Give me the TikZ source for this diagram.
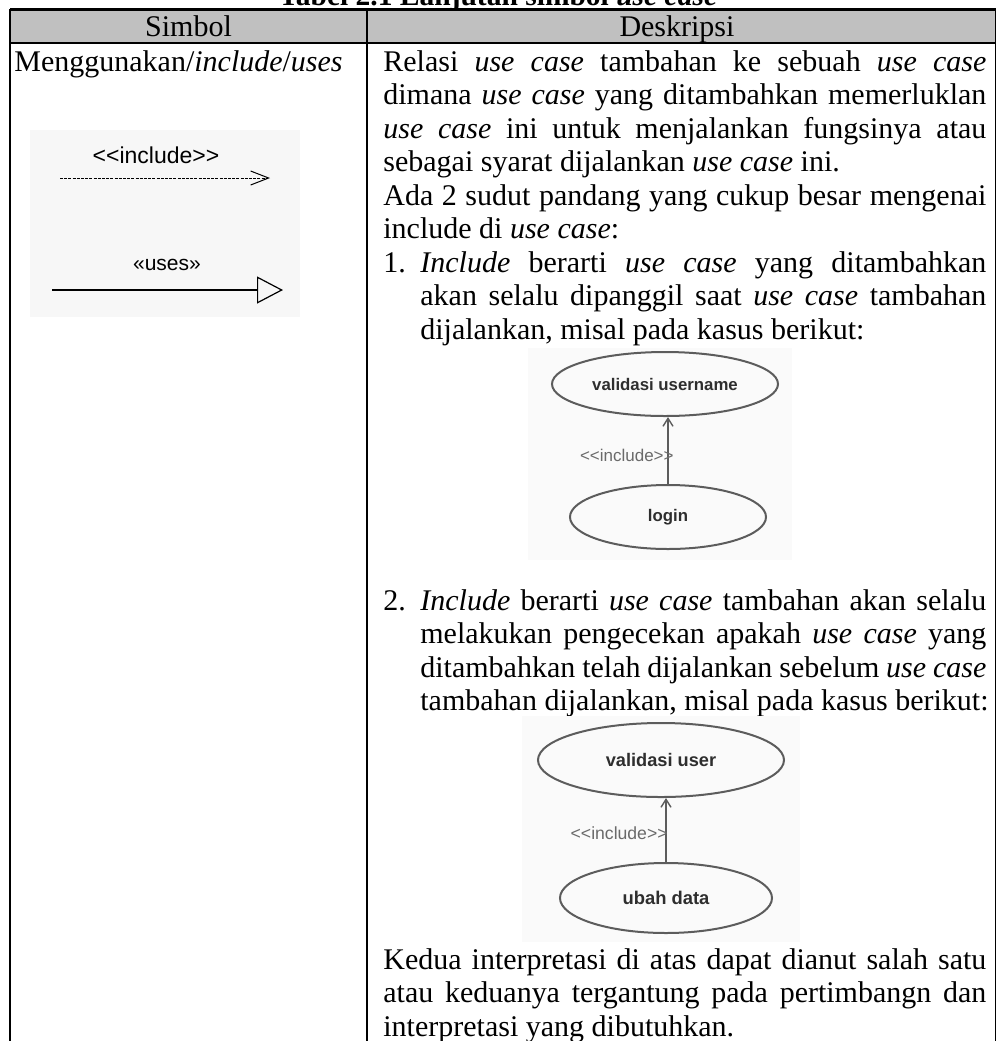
\documentclass[tikz,border=0pt]{standalone}
\usepackage{fontspec}
\setmainfont{Liberation Serif}
\newfontfamily\umlfont{Liberation Sans}
\usetikzlibrary{arrows.meta, positioning, shapes.geometric}

\definecolor{headgray}{HTML}{C0C0C0}
\definecolor{scanline}{HTML}{5C5C5C}
\definecolor{scantext}{HTML}{2E2E2E}
\definecolor{scanlabel}{HTML}{6A6A6A}

\setlength{\parindent}{0pt}
\newcommand{\natsp}{\spaceskip=0pt\xspaceskip=0pt}
\newcommand{\jline}[1]{\makebox[301.5pt][s]{\natsp\strut#1}}
\newcommand{\rline}[1]{\makebox[301.5pt][l]{\natsp\strut#1}}
\newcommand{\jitem}[2]{\makebox[18.5pt][l]{#1}\makebox[283pt][s]{\natsp\strut#2}}
\newcommand{\ritem}[2]{\makebox[18.5pt][l]{#1}\makebox[283pt][l]{\natsp\strut#2}}
\newcommand{\usecase}{\textit{use case}}

\tikzset{
  txt/.style={inner sep=0pt, font=\fontsize{15}{16.75}\selectfont},
  para/.style={txt, anchor=north west, text width=301.5pt},
  uml/.style={inner sep=0pt, font=\umlfont\fontsize{11.5}{13}\selectfont},
  ucase/.style={ellipse, draw=scanline, line width=1pt, inner sep=0pt, text=scantext},
  inclabel/.style={inner sep=0pt, text=scanlabel, anchor=east},
  incarrow/.style={scanline, line width=0.7pt, -{Straight Barb[length=4pt,width=5pt]}},
  scan/.style={fill=black!3},
  scanfig/.style={fill=black!2}
}

\begin{document}
\begin{tikzpicture}[x=0.5pt, y=-0.5pt]
    \useasboundingbox (0,0) rectangle (996,1041);
    \clip (0,0) rectangle (996,1041);

    % caption (only its lower part is in view)
    \node[txt, anchor=base, font=\fontsize{14.75}{16.75}\selectfont\bfseries] (caption) at (498,5) {Tabel 2.1 Lanjutan simbol \textit{use case}};

    % header row
    \fill[headgray] (10,9) rectangle (996,43);
    \node[txt, anchor=base] (hsym) at (188.5,36) {Simbol};
    \node[txt, anchor=base] (hdesc) at (677,36) {Deskripsi};

    % table rules
    \draw[line width=1.5pt] (10,9) -- (996,9);
    \draw[line width=1pt] (10,43) -- (996,43);
    \draw[line width=1pt] (10,8.5) -- (10,1041);
    \draw[line width=0.75pt] (367,9) -- (367,1041);
    \draw[line width=1pt] (996,8.5) -- (996,1041);

    % symbol column
    \node[txt, anchor=base west] (symname) at (14,71) {Menggunakan/\textit{include}/\textit{uses}};
    \fill[scan] (30,130) rectangle (300,317);
    \node[uml] (inclsym) at (156,155) {<{}<include>{}>};
    \coordinate (inclA) at (60,178);
    \coordinate (inclB) at (270,178);
    \draw[line width=0.5pt, dash pattern=on 1.5pt off 0.6pt, -{Straight Barb[length=9pt,width=7pt]}] (inclA) -- (inclB);
    \node[uml, font=\umlfont\fontsize{10.5}{12}\selectfont] (usessym) at (167,265) {«uses»};
    \coordinate (usesA) at (52,290);
    \coordinate (usesB) at (283,290);
    \draw[line width=0.6pt, -{Triangle[open,length=13pt,width=13.5pt]}] (usesA) -- (usesB);

    % description column
    \node[para] (desc1) at (383,47.55) {%
      \jline{Relasi \usecase{} tambahan ke sebuah \usecase}\\
      \jline{dimana \usecase{} yang ditambahkan memerluklan}\\
      \jline{\usecase{} ini untuk menjalankan fungsinya atau}\\
      \rline{sebagai syarat dijalankan \usecase{} ini.}\\
      \jline{Ada 2 sudut pandang yang cukup besar mengenai}\\
      \rline{include di \usecase:}\\
      \jitem{1.}{\textit{Include} berarti \usecase{} yang ditambahkan}\\
      \jitem{}{akan selalu dipanggil saat \usecase{} tambahan}\\
      \ritem{}{dijalankan, misal pada kasus berikut:}};

    % first example
    \fill[scanfig] (528,348) rectangle (792,560);
    \node[ucase, minimum width=113pt, minimum height=32pt, font=\umlfont\bfseries\fontsize{8.4}{10}\selectfont] (valun) at (665,384) {validasi username};
    \node[ucase, minimum width=98pt, minimum height=32pt, font=\umlfont\bfseries\fontsize{8.4}{10}\selectfont] (login) at (668,517) {login};
    \draw[incarrow] (login.north) -- (login.north |- valun.south);
    \node[inclabel, font=\umlfont\fontsize{8.5}{10}\selectfont] (incl1) at (674,455) {<{}<include>{}>};

    \node[para] (desc2) at (383,586.55) {%
      \jitem{2.}{\textit{Include} berarti \usecase{} tambahan akan selalu}\\
      \jitem{}{melakukan pengecekan apakah \usecase{} yang}\\
      \jitem{}{ditambahkan telah dijalankan sebelum \usecase}\\
      \ritem{}{tambahan dijalankan, misal pada kasus berikut:}};

    % second example
    \fill[scanfig] (522,716) rectangle (800,942);
    \node[ucase, minimum width=123pt, minimum height=37pt, font=\umlfont\bfseries\fontsize{9.1}{11}\selectfont] (valuser) at (661,760) {validasi user};
    \node[ucase, minimum width=106pt, minimum height=35pt, font=\umlfont\bfseries\fontsize{9.2}{11}\selectfont] (ubah) at (666,898) {ubah data};
    \draw[incarrow] (ubah.north) -- (ubah.north |- valuser.south);
    \node[inclabel, font=\umlfont\fontsize{8.8}{10}\selectfont] (incl2) at (668,833) {<{}<include>{}>};

    \node[para] (desc3) at (383,945.55) {%
      \jline{Kedua interpretasi di atas dapat dianut salah satu}\\
      \jline{atau keduanya tergantung pada pertimbangn dan}\\
      \rline{interpretasi yang dibutuhkan.}};
\end{tikzpicture}
\end{document}
